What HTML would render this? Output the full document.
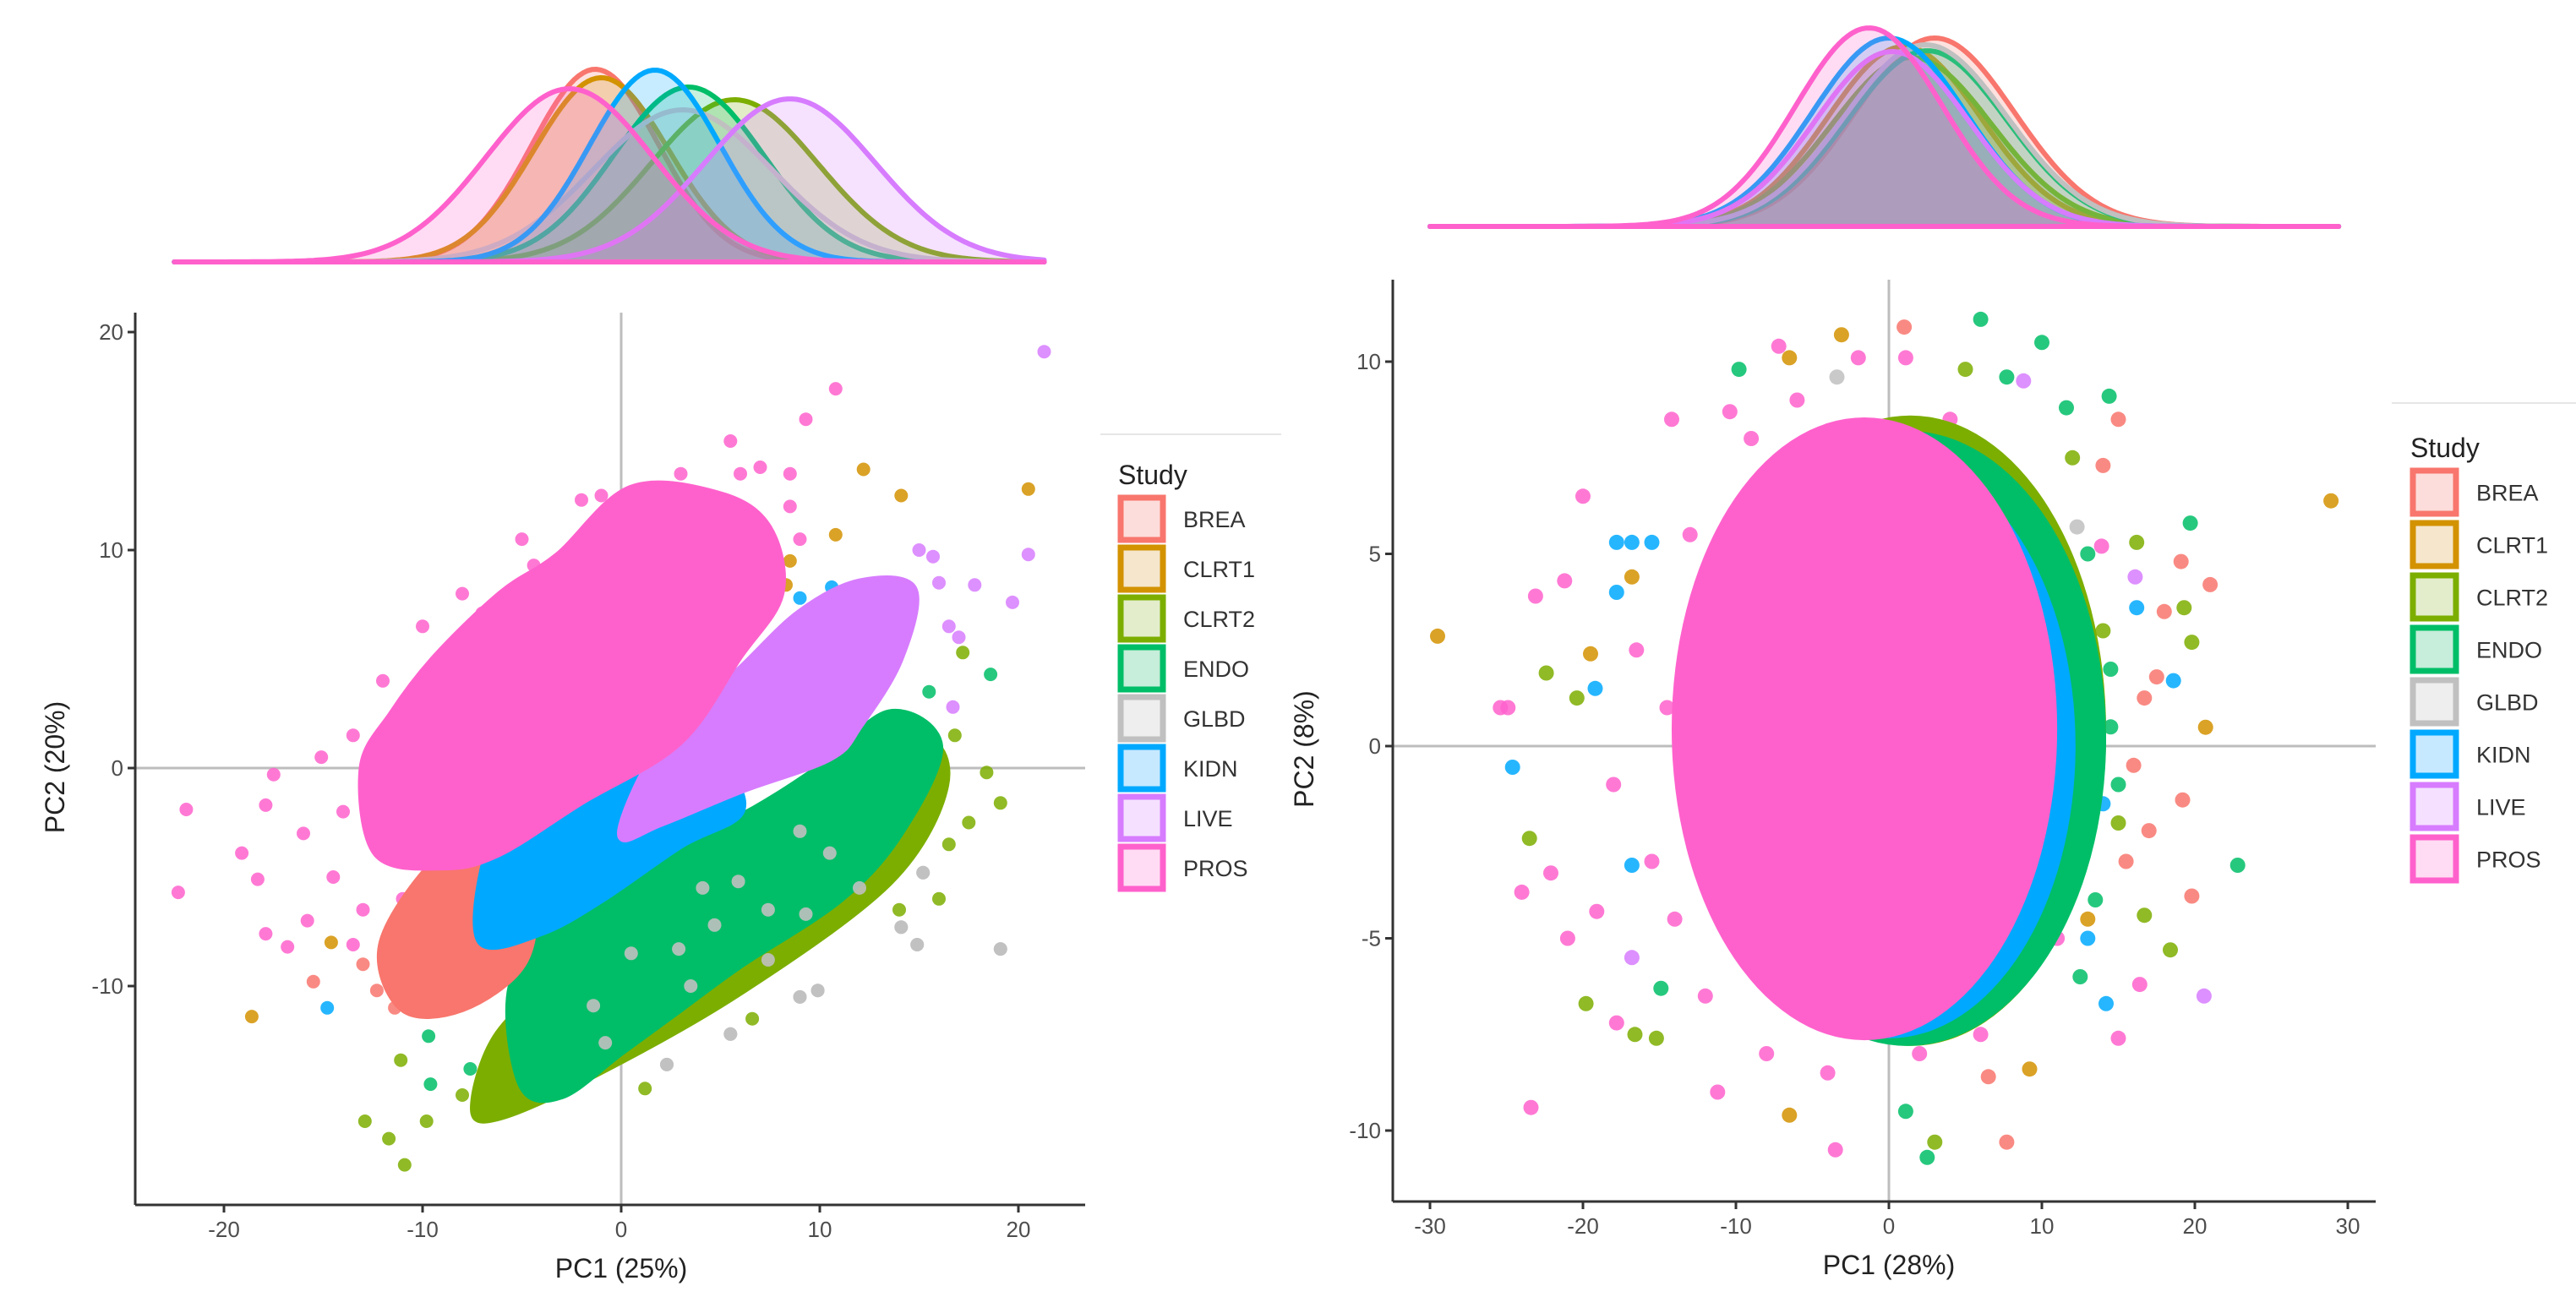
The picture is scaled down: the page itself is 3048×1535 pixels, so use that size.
<!DOCTYPE html>
<html><head><meta charset="utf-8">
<style>
html,body{margin:0;padding:0;background:#fff;}
svg{display:block;font-family:"Liberation Sans",sans-serif;}
</style></head>
<body>
<svg id="chart" width="3048" height="1535" viewBox="0 0 3048 1535" xmlns="http://www.w3.org/2000/svg"></svg>
<script>
// ---------- data ----------
const studies = ["BREA","CLRT1","CLRT2","ENDO","GLBD","KIDN","LIVE","PROS"];
const colors = ["#F8766D","#D39200","#7CAE00","#00BE67","#C0C0C0","#00A9FF","#D77CFF","#FF61CC"];
const lightColors = ["#FDDDDB","#F5E6CC","#E3EDCC","#C6EEDA","#EEEEEE","#C6E9FF","#F5E1FF","#FFDCF3"];

// left density (PC1, 25%): mean, sd, peak height (px)
const leftDensMean = [-1.3,-1.0,5.7,3.4,3.1,1.7,8.5,-2.6];
const leftDensSd   = [3.2,3.4,4.2,3.8,4.5,3.3,4.3,4.2];
const leftDensPeak = [228,218,192,207,180,227,193,205];
// right density (PC1, 28%)
const rightDensMean = [3.0,1.0,1.5,2.5,2.4,0.0,0.2,-1.3];
const rightDensSd   = [5.2,5.0,5.2,5.2,5.3,5.0,5.0,4.8];
const rightDensPeak = [223,213,200,208,215,223,207,235];

const leftXTicks = [-20,-10,0,10,20];
const leftYTicks = [20,10,0,-10];
const rightXTicks = [-30,-20,-10,0,10,20,30];
const rightYTicks = [10,5,0,-5,-10];

// left dense clusters (data coords), study index
const leftBlobStudy = [2,3,0,5,6,7];
const leftBlobs = [
 [[-6.2,-16],[-7.4,-15.5],[-6,-12],[-1.7,-9],[5.9,-6.5],[10,-2],[15,1.2],[16.3,-0.8],[13.5,-5.2],[5.9,-10.3],[-1.7,-14.2]],
 [[-5,-14.5],[-5.5,-10],[-3,-6.5],[0,-4.5],[5.5,-2.5],[10,0],[13.5,2.5],[16,1],[14,-3],[11,-6],[6,-9],[3,-11],[0,-13],[-3,-15]],
 [[-12,-8],[-9,-4],[-6,-3.5],[-4.5,-6],[-5,-9],[-8,-11],[-11,-11]],
 [[-7,-5],[-6,-3.5],[-2,-1],[2,0.5],[5,0],[6,-2],[3,-3.5],[-1,-6],[-4,-7.5],[-7,-8]],
 [[0,-3],[2,1],[6,4.5],[9,7.1],[12,8.5],[14.7,8.2],[14,5],[12,2],[10.5,0.5],[6,-1],[2,-2.5]],
 [[-13,0],[-12.3,-3.9],[-9,-4.5],[-6.2,-3.9],[-2,-1.5],[2.9,1.2],[5.9,5.1],[8,8],[7.4,11],[5,12.5],[0.5,12.8],[-3.2,9.7],[-6,8],[-9.3,5.1],[-11.5,2.5]]
];

// left individual points
const leftPtStudy = [];
const leftPtX = [];
const leftPtY = [];
function addL(s, pts){ for(const p of pts){ leftPtStudy.push(s); leftPtX.push(p[0]); leftPtY.push(p[1]); } }
addL(0, [[-15.5,-9.8],[-11.4,-11],[-13,-9],[-12.3,-10.2],[-10,-10.5]]);
addL(1, [[-18.6,-11.4],[-14.6,-8],[12.2,13.7],[14.1,12.5],[20.5,12.8],[10.8,10.7],[8.3,8.4],[8.5,9.5]]);
addL(2, [[-12.9,-16.2],[-11.7,-17],[-10.9,-18.2],[-9.8,-16.2],[-11.1,-13.4],[19.1,-1.6],[18.4,-0.2],[17.2,5.3],[16,-6],[6.6,-11.5],[1.2,-14.7],[17.5,-2.5],[16.8,1.5],[-8,-15],[-4,-14.8],[16.5,-3.5],[14,-6.5]]);
addL(3, [[-9.6,-14.5],[-9.7,-12.3],[-8,-10.5],[18.6,4.3],[-7.6,-13.8],[-4.7,-14.5],[0.8,-12.4],[15.5,3.5],[12,3.5]]);
addL(4, [[19.1,-8.3],[14.9,-8.1],[14.1,-7.3],[15.2,-4.8],[5.5,-12.2],[2.3,-13.6],[9.9,-10.2],[9,-10.5],[2.9,-8.3],[4.7,-7.2],[5.9,-5.2],[7.4,-6.5],[9.3,-6.7],[0.5,-8.5],[-1.4,-10.9],[-0.8,-12.6],[7.4,-8.8],[4.1,-5.5],[10.5,-3.9],[9,-2.9],[3.5,-10],[12,-5.5]]);
addL(5, [[-14.8,-11],[-8.7,-9.7],[10.6,8.3],[9,7.8],[-6,-8.5],[-3,-8.2],[7,1],[-5,-9.5],[4,2]]);
addL(6, [[21.3,19.1],[20.5,9.8],[19.7,7.6],[16.7,2.8],[17.8,8.4],[15.7,9.7],[-1,-4],[1,-5],[-3,-6.5],[3,-2.5],[16.5,6.5],[-4,-2.5],[16,8.5],[15,10],[17,6]]);
addL(7, [[-22.3,-5.7],[-21.9,-1.9],[-19.1,-3.9],[-17.5,-0.3],[-17.9,-1.7],[-18.3,-5.1],[-17.9,-7.6],[-16.8,-8.2],[10.8,17.4],[9.3,16],[5.5,15],[-2,12.3],[-4.4,9.3],[-7,7.1],[-15.1,0.5],[-15.8,-7],[-13.5,-8.1],[-16,-3],[-14.5,-5],[8.5,13.5],[7,13.8],[-14,-2],[-13.5,1.5],[-12,4],[-10,6.5],[-8,8],[-5,10.5],[-1,12.5],[3,13.5],[6,13.5],[8.5,12],[9,10.5],[-11,-6],[-13,-6.5]]);

// right dense clusters: ellipses (cx, cy, rx, ry in data units)
const rightBlobStudy = [0,2,3,5,7];
const rightBlobCx = [1.6,1.4,1.2,0.0,-1.6];
const rightBlobCy = [0.3,0.4,0.2,0.0,0.45];
const rightBlobRx = [12.6,12.8,13.0,12.2,12.6];
const rightBlobRy = [8.0,8.2,8.0,7.6,8.1];

const rightPtStudy = [];
const rightPtX = [];
const rightPtY = [];
function addR(s, pts){ for(const p of pts){ rightPtStudy.push(s); rightPtX.push(p[0]); rightPtY.push(p[1]); } }
addR(0, [[1,10.9],[7.7,-10.3],[21,4.2],[19.8,-3.9],[15,8.5],[19.1,4.8],[19.2,-1.4],[16.7,1.25],[14,7.3],[17,-2.2],[6.5,-8.6],[18,3.5],[16,-0.5],[15.5,-3],[17.5,1.8]]);
addR(1, [[-29.5,2.86],[28.9,6.38],[-3.1,10.7],[-6.5,-9.6],[20.7,0.49],[9.2,-8.4],[-6.5,10.1],[-16.8,4.4],[-19.5,2.4],[13,-4.5]]);
addR(2, [[-22.4,1.9],[-23.5,-2.4],[-19.8,-6.7],[-16.6,-7.5],[-15.2,-7.6],[-20.4,1.25],[18.4,-5.3],[16.7,-4.4],[3,-10.3],[19.3,3.6],[19.8,2.7],[16.2,5.3],[12,7.5],[5,9.8],[15,-2],[14,3]]);
addR(3, [[6,11.1],[10,10.5],[-9.8,9.8],[22.8,-3.1],[19.7,5.8],[14.4,9.1],[11.6,8.8],[7.7,9.6],[2.5,-10.7],[1.1,-9.5],[-14.9,-6.3],[14.5,2],[15,-1],[13.5,-4],[14.5,0.5],[13,5],[12.5,-6]]);
addR(4, [[-3.4,9.6],[12.3,5.7]]);
addR(5, [[-24.6,-0.55],[-17.8,4],[-19.2,1.5],[-16.8,-3.1],[14.2,-6.7],[18.6,1.7],[16.2,3.6],[-17.8,5.3],[-16.8,5.3],[-15.5,5.3],[13,-5],[14,-1.5]]);
addR(6, [[8.8,9.5],[20.6,-6.5],[-16.8,-5.5],[16.1,4.4]]);
addR(7, [[-25.4,1],[-24.9,1],[-23.4,-9.4],[-24,-3.8],[-20,6.5],[-23.1,3.9],[-21.2,4.3],[-22.1,-3.3],[-21,-5],[-19.1,-4.3],[-17.8,-7.2],[-11.2,-9],[-3.5,-10.5],[16.4,-6.2],[15,-7.6],[-14.2,8.5],[-10.4,8.7],[-2,10.1],[-7.2,10.4],[1.1,10.1],[13.9,5.2],[-18,-1],[-16.5,2.5],[-15.5,-3],[-14.5,1],[-14,-4.5],[-13,5.5],[-12,-6.5],[-9,8],[-6,9],[-8,-8],[-4,-8.5],[2,-8],[6,-7.5],[8,6.5],[4,8.5],[11.5,2],[12,-2.5],[11,-5]]);

// ---------- axes ----------
const L = {x0:160, x1:1284, y0:370, y1:1426, xs:v=>735+23.5*v, ys:v=>909-25.8*v};
const R = {x0:1648, x1:2811, y0:331, y1:1422, xs:v=>2235+18.1*v, ys:v=>883-45.5*v};
const leftDensBase = 310, leftDensX0 = -22.5, leftDensX1 = 21.3;
const rightDensBase = 268, rightDensX0 = -30, rightDensX1 = 29.4;

const NS = "http://www.w3.org/2000/svg";
const svg = document.getElementById('chart');
function el(tag, attrs, parent){ const e=document.createElementNS(NS,tag); for(const k in attrs) e.setAttribute(k,attrs[k]); (parent||svg).appendChild(e); return e; }

function smoothClosed(pts){
  const n=pts.length; let d=`M${pts[0][0].toFixed(1)},${pts[0][1].toFixed(1)}`;
  for(let i=0;i<n;i++){
    const p0=pts[(i-1+n)%n],p1=pts[i],p2=pts[(i+1)%n],p3=pts[(i+2)%n];
    const c1=[p1[0]+(p2[0]-p0[0])/6,p1[1]+(p2[1]-p0[1])/6];
    const c2=[p2[0]-(p3[0]-p1[0])/6,p2[1]-(p3[1]-p1[1])/6];
    d+=` C${c1[0].toFixed(1)},${c1[1].toFixed(1)} ${c2[0].toFixed(1)},${c2[1].toFixed(1)} ${p2[0].toFixed(1)},${p2[1].toFixed(1)}`;
  }
  return d+' Z';
}

function density(parent, means, sds, peaks, xs, base, x0, x1, prefix){
  for(let i=0;i<studies.length;i++){
    let d=`M${xs(x0)},${base}`;
    for(let k=0;k<=200;k++){
      const v=x0+(x1-x0)*k/200;
      const h=peaks[i]*Math.exp(-0.5*Math.pow((v-means[i])/sds[i],2));
      d+=` L${xs(v).toFixed(1)},${(base-h).toFixed(1)}`;
    }
    d+=` L${xs(x1)},${base} Z`;
    const p=el('path',{d:d,fill:colors[i],'fill-opacity':0.22,stroke:colors[i],'stroke-width':6,'stroke-linejoin':'round'},parent);
    
    
  }
}

function axes(A, prefix){
  const g=el('g',{});
  
  
  const vline=el('line',{x1:A.xs(0),x2:A.xs(0),y1:A.y0,y2:A.y1,stroke:'#bdbdbd','stroke-width':3},g);
  
  
  const hline=el('line',{x1:A.x0,x2:A.x1,y1:A.ys(0),y2:A.ys(0),stroke:'#bdbdbd','stroke-width':3},g);
  
  
}
function axisLines(A, xt, yt, xTitle, yTitle, yTitleX, prefix){
  const g=el('g',{});
  
  
  const ya=el('line',{x1:A.x0,x2:A.x0,y1:A.y0,y2:A.y1,stroke:'#333','stroke-width':3},g);
  
  
  const xa=el('line',{x1:A.x0,x2:A.x1,y1:A.y1,y2:A.y1,stroke:'#333','stroke-width':3},g);
  
  
  for(const t of xt){
    el('line',{x1:A.xs(t),x2:A.xs(t),y1:A.y1,y2:A.y1+9,stroke:'#333','stroke-width':3},g);
    const tx=el('text',{x:A.xs(t),y:A.y1+38,'text-anchor':'middle','font-size':26,fill:'#4d4d4d'},g);
    tx.textContent=t;
    
    
  }
  for(const t of yt){
    el('line',{x1:A.x0-9,x2:A.x0,y1:A.ys(t),y2:A.ys(t),stroke:'#333','stroke-width':3},g);
    const tx=el('text',{x:A.x0-14,y:A.ys(t)+9,'text-anchor':'end','font-size':26,fill:'#4d4d4d'},g);
    tx.textContent=t;
    
    
  }
  const xtl=el('text',{x:(A.xs(0)),y:A.y1+86,'text-anchor':'middle','font-size':32,fill:'#222'},g);
  xtl.textContent=xTitle;
  
  
  const cy=(A.y0+A.y1)/2+10;
  const ytl=el('text',{x:yTitleX,y:cy,'text-anchor':'middle','font-size':32,fill:'#222',transform:`rotate(-90 ${yTitleX} ${cy})`},g);
  ytl.textContent=yTitle;
  
  
}

function legend(x, lineY, lineX0, lineX1, titleY, keyTop, step, size, labelX, prefix){
  const g=el('g',{});
  
  
  el('line',{x1:lineX0,x2:lineX1,y1:lineY,y2:lineY,stroke:'#e6e6e6','stroke-width':2},g);
  const t=el('text',{x:x,y:titleY,'font-size':32,fill:'#222'},g);
  t.textContent='Study';
  
  
  for(let i=0;i<studies.length;i++){
    const y=keyTop+i*step;
    const r=el('rect',{x:x+3,y:y+3,width:size-6,height:size-6,fill:lightColors[i],stroke:colors[i],'stroke-width':7},g);
    
    
    const l=el('text',{x:labelX,y:y+size/2+10,'font-size':27,fill:'#333'},g);
    l.textContent=studies[i];
    
    
  }
}

// ---------- left panel ----------
const gLD=el('g',{});


density(gLD, leftDensMean, leftDensSd, leftDensPeak, L.xs, leftDensBase, leftDensX0, leftDensX1, 'left');

axes(L, 'left');
const gLS=el('g',{});


for(let i=0;i<leftPtX.length;i++){
  const s=leftPtStudy[i];
  const c=el('circle',{cx:L.xs(leftPtX[i]).toFixed(1),cy:L.ys(leftPtY[i]).toFixed(1),r:8,fill:colors[s],'fill-opacity':0.85},gLS);
  
  
}
for(let b=0;b<leftBlobs.length;b++){
  const s=leftBlobStudy[b];
  const pts=leftBlobs[b].map(p=>[L.xs(p[0]),L.ys(p[1])]);
  const pg=el('path',{d:smoothClosed(pts),fill:colors[s],stroke:colors[s],'stroke-width':10,'stroke-linejoin':'round'},gLS);
  
  
  if(s===3){
    for(let i=0;i<leftPtX.length;i++){
      if(leftPtStudy[i]!==4) continue;
      const c=el('circle',{cx:L.xs(leftPtX[i]).toFixed(1),cy:L.ys(leftPtY[i]).toFixed(1),r:8,fill:colors[4],'fill-opacity':0.9},gLS);
      
      
    }
  }
}
axisLines(L, leftXTicks, leftYTicks, 'PC1 (25%)', 'PC2 (20%)', 76, 'left');
legend(1323, 514, 1302, 1516, 573, 586, 59, 56, 1400, 'left');

// ---------- right panel ----------
const gRD=el('g',{});


density(gRD, rightDensMean, rightDensSd, rightDensPeak, R.xs, rightDensBase, rightDensX0, rightDensX1, 'right');

axes(R, 'right');
const gRS=el('g',{});


for(let i=0;i<rightPtX.length;i++){
  const s=rightPtStudy[i];
  const c=el('circle',{cx:R.xs(rightPtX[i]).toFixed(1),cy:R.ys(rightPtY[i]).toFixed(1),r:9,fill:colors[s],'fill-opacity':0.85},gRS);
  
  
}
for(let b=0;b<rightBlobStudy.length;b++){
  const s=rightBlobStudy[b];
  const e=el('ellipse',{cx:R.xs(rightBlobCx[b]),cy:R.ys(rightBlobCy[b]),rx:rightBlobRx[b]*18.1,ry:rightBlobRy[b]*45.5,fill:colors[s]},gRS);
  
  
}
axisLines(R, rightXTicks, rightYTicks, 'PC1 (28%)', 'PC2 (8%)', 1554, 'right');
legend(2852, 477, 2830, 3048, 541, 554, 62, 57, 2930, 'right');
</script>
</body></html>
